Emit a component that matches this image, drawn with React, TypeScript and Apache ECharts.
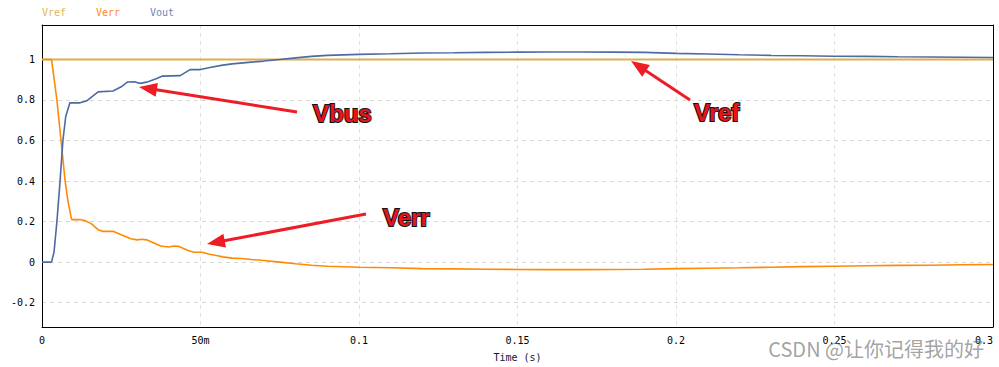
import React, { useEffect, useRef } from "react";
import * as echarts from "echarts";

const seriesNames = ["Vref", "Verr", "Vout"];
const seriesColors = ["#ddad4e", "#ff8a00", "#4d6aa3"];
const legendColors = ["#e2b75c", "#ff8c1c", "#6a84b4"];

const vref: [number, number][] = [
  [0, 1],
  [0.3, 1],
];

const verr: [number, number][] = [
  [0, 1], [0.003, 1], [0.0047, 0.8], [0.006, 0.6], [0.0073, 0.4], [0.0082, 0.3],
  [0.0092, 0.22], [0.0095, 0.21], [0.012, 0.21], [0.0135, 0.205], [0.0155, 0.19],
  [0.0177, 0.16], [0.019, 0.152], [0.0224, 0.152], [0.025, 0.135], [0.028, 0.115],
  [0.03, 0.11], [0.0315, 0.113], [0.033, 0.11], [0.036, 0.09], [0.0375, 0.08],
  [0.04, 0.075], [0.0415, 0.08], [0.043, 0.078], [0.0465, 0.055], [0.048, 0.049],
  [0.0505, 0.049], [0.0525, 0.04], [0.055, 0.033], [0.057, 0.026], [0.06, 0.02],
  [0.063, 0.018], [0.066, 0.013], [0.07, 0.008], [0.075, 0.0], [0.08, -0.008],
  [0.085, -0.015], [0.09, -0.02], [0.1, -0.025], [0.11, -0.028], [0.12, -0.032],
  [0.13, -0.033], [0.14, -0.035], [0.15, -0.036], [0.16, -0.037], [0.17, -0.037],
  [0.18, -0.036], [0.19, -0.035], [0.2, -0.032], [0.21, -0.03], [0.22, -0.028],
  [0.23, -0.025], [0.24, -0.022], [0.25, -0.02], [0.26, -0.018], [0.27, -0.016],
  [0.28, -0.015], [0.29, -0.013], [0.3, -0.012],
];

const vout: [number, number][] = [
  [0, 0], [0.003, 0], [0.0038, 0.05], [0.0047, 0.2], [0.0057, 0.4], [0.0066, 0.6],
  [0.0075, 0.72], [0.0088, 0.786], [0.012, 0.786], [0.014, 0.795], [0.0177, 0.84],
  [0.0224, 0.844], [0.025, 0.865], [0.027, 0.889], [0.029, 0.89], [0.031, 0.882],
  [0.033, 0.888], [0.036, 0.905], [0.038, 0.918], [0.0436, 0.92], [0.0467, 0.95],
  [0.05, 0.95], [0.053, 0.96], [0.057, 0.972], [0.06, 0.978], [0.066, 0.987],
  [0.07, 0.992], [0.075, 1.0], [0.08, 1.008], [0.085, 1.015], [0.09, 1.02],
  [0.1, 1.025], [0.11, 1.028], [0.12, 1.032], [0.13, 1.033], [0.14, 1.035],
  [0.15, 1.036], [0.16, 1.037], [0.17, 1.037], [0.18, 1.036], [0.19, 1.035],
  [0.2, 1.03], [0.21, 1.027], [0.22, 1.023], [0.23, 1.02], [0.24, 1.018],
  [0.25, 1.016], [0.26, 1.015], [0.27, 1.013], [0.28, 1.012], [0.29, 1.011],
  [0.3, 1.01],
];

const seriesData = [vref, verr, vout];

const annotations = [
  { label: "Vbus", from: [297, 112], tip: [139, 87], text: [313, 113] },
  { label: "Verr", from: [366, 214], tip: [207, 244], text: [383, 217] },
  { label: "Vref", from: [690, 100], tip: [631, 61], text: [694, 112] },
];

const MONO = "'DejaVu Sans Mono', monospace";
const X_MIN = 0;
const X_MAX = 0.3;
const Y_MIN = -0.32;
const Y_MAX = 1.17;

function arrowElements(from: number[], tip: number[]) {
  const dx = tip[0] - from[0];
  const dy = tip[1] - from[1];
  const len = Math.sqrt(dx * dx + dy * dy);
  const ux = dx / len;
  const uy = dy / len;
  const headLen = 18;
  const headHalf = 7;
  const bx = tip[0] - ux * headLen;
  const by = tip[1] - uy * headLen;
  const px = -uy;
  const py = ux;
  return [
    {
      type: "line",
      shape: { x1: from[0], y1: from[1], x2: bx + ux * 2, y2: by + uy * 2 },
      style: { stroke: "#ee1c25", lineWidth: 3 },
      z: 100,
    },
    {
      type: "polygon",
      shape: {
        points: [
          [tip[0], tip[1]],
          [bx + px * headHalf, by + py * headHalf],
          [bx - px * headHalf, by - py * headHalf],
        ],
      },
      style: { fill: "#ee1c25" },
      z: 100,
    },
  ];
}

export default function App() {
  const ref = useRef<HTMLDivElement>(null);
  useEffect(() => {
    if (!ref.current) return;
    const chart = echarts.init(ref.current, undefined, { renderer: "svg" });

    const graphics: any[] = [];
    seriesNames.forEach((n, i) => {
      graphics.push({
        type: "text",
        left: 42 + i * 54,
        top: 7,
        style: { text: n, fill: legendColors[i], font: `10px ${MONO}` },
      });
    });
    annotations.forEach((a) => {
      arrowElements(a.from, a.tip).forEach((g) => graphics.push(g));
      graphics.push({
        type: "text",
        x: a.text[0],
        y: a.text[1],
        z: 101,
        style: {
          text: a.label,
          fill: "#e8141c",
          stroke: "#111",
          lineWidth: 2,
          font: "bold 24px 'Liberation Sans', Arial, sans-serif",
          verticalAlign: "middle",
          align: "left",
        },
      });
    });
    graphics.push({
      type: "text",
      x: 984,
      y: 348,
      z: 102,
      style: {
        text: "CSDN @让你记得我的好",
        fill: "rgba(110,110,110,0.65)",
        font: "20px 'Noto Sans CJK SC', sans-serif",
        align: "right",
        verticalAlign: "middle",
      },
    });

    const frameAxis = {
      axisLine: { show: true, onZero: false, lineStyle: { color: "#000", width: 1 } },
      axisTick: { show: false },
      axisLabel: { show: false },
      splitLine: { show: false },
    };

    chart.setOption({
      animation: false,
      backgroundColor: "#fff",
      grid: { left: 42, right: 6, top: 25, bottom: 39 },
      xAxis: [
        {
          type: "value",
          min: X_MIN,
          max: X_MAX,
          interval: 0.05,
          name: "Time (s)",
          nameLocation: "middle",
          nameGap: 25,
          nameTextStyle: { color: "#0d1a3a", fontFamily: MONO, fontSize: 10 },
          axisLine: { show: true, onZero: false, lineStyle: { color: "#000", width: 1 } },
          axisTick: { show: false },
          axisLabel: {
            color: "#000",
            fontFamily: MONO,
            fontSize: 10,
            margin: 8,
            alignMaxLabel: "right",
            formatter: (v: number) => {
              if (v === 0) return "0";
              if (Math.abs(v - 0.05) < 1e-9) return "50m";
              return String(parseFloat(v.toFixed(2)));
            },
          },
          splitLine: {
            show: true,
            showMinLine: false,
            showMaxLine: false,
            lineStyle: { color: "#e2e2d4", type: [4, 4], width: 1 },
          },
        },
        { type: "value", position: "top", min: X_MIN, max: X_MAX, ...frameAxis },
      ],
      yAxis: [
        {
          type: "value",
          min: Y_MIN,
          max: Y_MAX,
          splitNumber: 7,
          axisLine: { show: true, onZero: false, lineStyle: { color: "#000", width: 1 } },
          axisTick: { show: false },
          axisLabel: {
            color: "#000",
            fontFamily: MONO,
            fontSize: 10,
            margin: 7,
            showMinLabel: false,
            showMaxLabel: false,
            formatter: (v: number) => {
              const r = parseFloat(v.toFixed(2));
              if (Math.abs(r * 10 - Math.round(r * 10)) > 1e-6) return "";
              return String(r);
            },
          },
          splitLine: {
            show: true,
            showMinLine: false,
            showMaxLine: false,
            lineStyle: { color: "#d9d9d9", type: [4, 4], width: 1 },
          },
        },
        { type: "value", position: "right", min: Y_MIN, max: Y_MAX, ...frameAxis },
      ],
      series: seriesNames.map((n, i) => ({
        name: n,
        type: "line",
        data: seriesData[i],
        showSymbol: false,
        symbol: "none",
        lineStyle: { color: seriesColors[i], width: i === 0 ? 2 : 1.6 },
        itemStyle: { color: seriesColors[i] },
        z: 2 + i,
      })),
      graphic: graphics,
    });
    return () => chart.dispose();
  }, []);
  return <div ref={ref} style={{ width: 999, height: 367, position: "absolute", left: 0, top: 0 }} />;
}
